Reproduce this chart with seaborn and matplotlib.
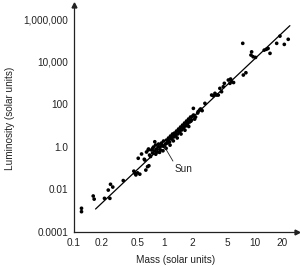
import matplotlib
matplotlib.use("Agg")
import matplotlib.pyplot as plt
import seaborn as sns
import pandas as pd
from matplotlib.ticker import NullLocator

# Stellar mass-luminosity relation (solar units)
star_mass = [
    0.121, 0.121, 0.163, 0.167, 0.217, 0.239, 0.253, 0.268, 0.249, 0.35,
    0.458, 0.47, 0.503, 0.533, 0.482, 0.512, 0.597, 0.649, 0.621, 0.671,
    0.632, 0.665, 0.683, 0.718, 0.737, 0.756, 0.776, 0.796, 0.816, 0.837,
    0.859, 0.881, 0.903, 0.927, 0.95, 0.975, 1.0, 1.026, 1.052, 1.079,
    1.107, 1.135, 1.164, 1.194, 1.225, 1.256, 1.289, 1.323, 1.357, 1.392,
    1.428, 1.465, 1.503, 1.541, 1.581, 1.622, 1.663, 1.706, 1.75, 1.795,
    1.841, 1.888, 1.937, 1.987, 2.09, 2.2, 2.32, 2.44, 2.08,
    0.66, 0.605, 0.78, 0.557,
    0.70, 0.74, 0.80, 0.85, 0.88, 0.93, 0.96, 1.04, 1.10, 1.15,
    1.20, 1.25, 1.30, 1.38, 1.45, 1.52, 1.60, 1.68, 1.75, 1.85,
    1.95, 2.05, 2.15, 2.35, 2.50, 2.60,
    2.79, 3.31, 3.6, 3.92, 4.26, 4.45, 4.08, 3.76, 3.45, 4.57,
    5.06, 5.27, 5.5, 5.78, 5.36, 7.41, 7.91,
    7.3, 9.15, 9.0, 9.5, 10.1, 12.6, 13.3, 13.9, 14.6, 17.3,
    18.8, 21.0, 23.2,
]
star_lum = [
    0.0013, 0.0009, 0.0049, 0.0035, 0.0038, 0.0093, 0.0174, 0.0129, 0.0038, 0.026,
    0.072, 0.057, 0.060, 0.052, 0.048, 0.29, 0.26, 0.117, 0.081, 0.129,
    0.57, 0.79, 0.41, 0.71, 0.51, 0.98, 0.64, 1.22, 0.79, 0.57,
    1.35, 0.98, 0.71, 1.51, 1.09, 1.87, 1.0, 1.35, 2.08, 1.51,
    2.59, 1.68, 3.21, 2.32, 3.99, 2.88, 4.45, 3.21, 5.52, 3.99,
    6.85, 4.95, 8.5, 6.15, 10.5, 7.6, 13.1, 9.5, 16.3, 11.8,
    20.2, 14.6, 25.1, 18.1, 31.1, 25.1, 38.6, 53.4, 64.0,
    0.71, 0.24, 1.73, 0.46,
    0.35, 0.85, 0.45, 1.0, 0.55, 1.2, 0.65, 0.85, 1.9, 1.2,
    3.0, 1.9, 3.5, 2.6, 6.0, 4.0, 8.5, 6.0, 12.0, 9.0,
    16.0, 28.0, 20.0, 45.0, 60.0, 50.0,
    110, 270, 325, 270, 386, 663, 557, 270, 250, 958,
    1370, 958, 1140, 1045, 1525, 2350, 3010,
    72400, 28800, 20400, 17000, 15800, 34700, 38000, 41700, 24500, 72400,
    158000, 64600, 112000,
]

# straight-line fit drawn through the points
fit_mass = [0.173, 24.2]
fit_lum = [0.0012, 490000]

xticks = [0.1, 0.2, 0.5, 1, 2, 5, 10, 20]
xtick_labels = ["0.1", "0.2", "0.5", "1", "2", "5", "10", "20"]
yticks = [1e-4, 1e-2, 1, 1e2, 1e4, 1e5, 1e6]
ytick_labels = ["0.0001", "0.01", "1.0", "100", "10,000", "", "1,000,000"]

sns.set_theme(style="white")
plt.rcParams["font.family"] = ["Liberation Sans", "DejaVu Sans"]

df = pd.DataFrame({"mass": star_mass, "lum": star_lum})
fit_df = pd.DataFrame({"mass": fit_mass, "lum": fit_lum})

fig = plt.figure(figsize=(3.0, 2.67), dpi=100)
ax = fig.add_axes([74 / 300, 35 / 267, 223 / 300, 227 / 267])

sns.lineplot(data=fit_df, x="mass", y="lum", color="black", linewidth=0.9, ax=ax)
sns.scatterplot(data=df, x="mass", y="lum", color="black", s=7,
                edgecolor="none", ax=ax)

ax.set_xscale("log")
ax.set_yscale("log")
ax.set_xlim(0.1, 29)
ax.set_ylim(1e-4, 10 ** 6.66)

ax.set_xticks(xticks, xtick_labels)
ax.set_yticks(yticks, ytick_labels)
ax.xaxis.set_minor_locator(NullLocator())
ax.yaxis.set_minor_locator(NullLocator())
ax.tick_params(axis="x", direction="in", length=4, width=0.8, pad=4,
               labelsize=7.2, color="#333333", labelcolor="#222222")
ax.tick_params(axis="y", direction="in", length=6, width=0.8, pad=4,
               labelsize=7.2, color="#333333", labelcolor="#222222")

for side in ["top", "right"]:
    ax.spines[side].set_visible(False)
for side in ["left", "bottom"]:
    ax.spines[side].set_color("#222222")
    ax.spines[side].set_linewidth(0.9)

# arrowheads at the ends of the axes
ax.plot(1, 0, ">", color="#222222", markersize=3.5, transform=ax.transAxes,
        clip_on=False)
ax.plot(0, 1, "^", color="#222222", markersize=3.5, transform=ax.transAxes,
        clip_on=False)

ax.set_xlabel("Mass (solar units)", fontsize=7.2, color="#222222")
ax.set_ylabel("Luminosity (solar units)", fontsize=7.2, color="#222222")
ax.xaxis.set_label_coords(0.455, -0.1)
ax.yaxis.set_label_coords(-0.265, 0.5)

ax.annotate("Sun", xy=(1.0, 1.0), xytext=(1.3, 0.15), fontsize=7.2,
            color="#222222", ha="left", va="top",
            arrowprops=dict(arrowstyle="-", lw=0.6, color="#222222",
                            shrinkA=0, shrinkB=0, relpos=(0, 1)))

fig.savefig("out.png", dpi=100)
plt.close(fig)
